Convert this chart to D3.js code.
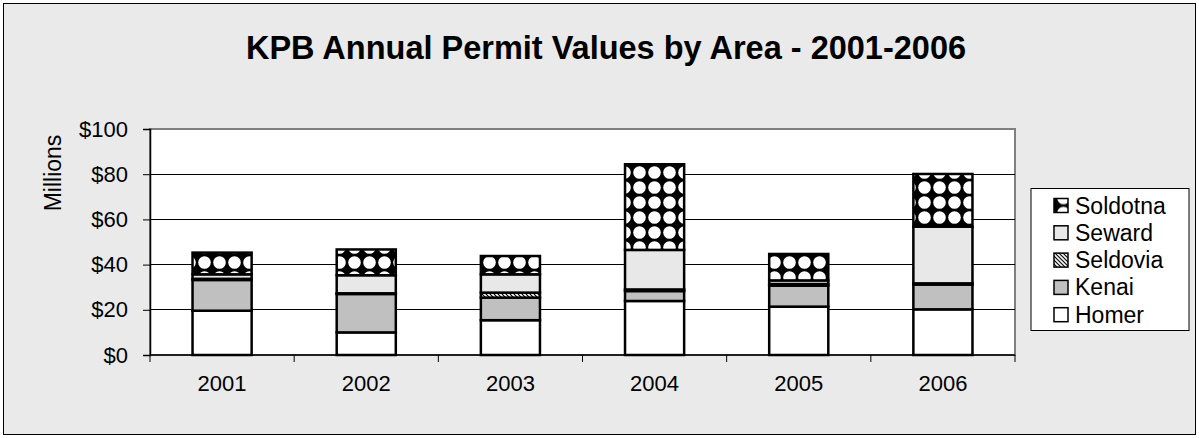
<!DOCTYPE html>
<html><head><meta charset="utf-8">
<script src="https://cdn.jsdelivr.net/npm/d3@7"></script>
<style>
html,body{margin:0;padding:0;background:#fff;}
svg{display:block;font-family:"Liberation Sans",Arial,sans-serif;}
</style></head>
<body>
<svg id="chart" width="1199" height="438"></svg>
<script>
const years = ['2001','2002','2003','2004','2005','2006'];
const homer    = [19.6, 10.0, 15.4, 23.9, 21.4, 20.2];
const kenai    = [13.6, 17.0, 10.0,  4.4,  9.3, 11.0];
const seldovia = [ 0.5,  0.3,  2.2,  0.7,  0.7,  0.5];
const seward   = [ 2.0,  8.0,  8.1, 17.5,  1.6, 25.1];
const soldotna = [ 9.6, 11.4,  8.1, 37.9, 11.7, 23.3];
const seriesNames = ['Homer','Kenai','Seldovia','Seward','Soldotna'];
const yTicks = [0,20,40,60,80,100];
const title = 'KPB Annual Permit Values by Area - 2001-2006';
const yLabel = 'Millions';

const seriesData = [homer, kenai, seldovia, seward, soldotna];
const rows = years.map((y,i)=>{const r={year:y}; seriesNames.forEach((s,k)=>r[s]=seriesData[k][i]); return r;});
const stacked = d3.stack().keys(seriesNames)(rows);

const svg = d3.select('#chart');
const defs = svg.append('defs');
// Soldotna pattern
const p1 = defs.append('pattern').attr('id','pSold').attr('patternUnits','userSpaceOnUse')
  .attr('width',15).attr('height',15).attr('x',2).attr('y',0);
p1.append('rect').attr('width',15).attr('height',15).attr('fill','#000');
p1.append('circle').attr('cx',7.5).attr('cy',7.5).attr('r',6.3).attr('fill','#fff');
// Seldovia hatch
const p2 = defs.append('pattern').attr('id','pSeld').attr('patternUnits','userSpaceOnUse')
  .attr('width',4).attr('height',4);
p2.append('rect').attr('width',4).attr('height',4).attr('fill','#fff');
p2.append('path').attr('d','M-1,-1L5,5M-1,3L1,5M3,-1L5,1').attr('stroke','#000').attr('stroke-width',1.2);

const fills = {Homer:'#ffffff', Kenai:'#c0c0c0', Seldovia:'url(#pSeld)', Seward:'#e8e8e8', Soldotna:'url(#pSold)'};

// background
svg.append('rect').attr('x',3.5).attr('y',3.5).attr('width',1192).attr('height',431)
  .attr('fill','#eaeaea').attr('stroke','#000').attr('stroke-width',1);

const L=150, R=1015, T=129, B=355;
const x = d3.scaleBand().domain(years).range([L,R]).padding(0);
const y = d3.scaleLinear().domain([0,100]).range([B,T]);

svg.append('rect').attr('x',L).attr('y',T).attr('width',R-L).attr('height',B-T)
  .attr('fill','#fff').attr('stroke','#808080').attr('stroke-width',2);

// gridlines
svg.append('g').selectAll('line').data(yTicks.filter(d=>d>0 && d<100)).join('line')
  .attr('x1',L).attr('x2',R).attr('y1',d=>y(d)).attr('y2',d=>y(d))
  .attr('stroke','#000').attr('stroke-width',1).attr('shape-rendering','crispEdges');

// y axis
const yAxis = svg.append('g').attr('transform',`translate(${L},0)`)
  .call(d3.axisLeft(y).tickValues(yTicks).tickSize(7).tickPadding(15).tickFormat(d=>'$'+d));
yAxis.select('.domain').attr('stroke','#000').attr('stroke-width',1.5);
yAxis.selectAll('.tick line').attr('stroke','#000');
yAxis.selectAll('.tick text').attr('font-size',22).attr('fill','#000')
  .attr('font-family','"Liberation Sans",Arial,sans-serif');

// x axis
const xTickPos = years.map(d=>x(d)).concat([R]);
const xAxis = svg.append('g').attr('transform',`translate(0,${B})`);
xAxis.append('line').attr('x1',L).attr('x2',R).attr('y1',0).attr('y2',0).attr('stroke','#000').attr('stroke-width',1.5);
xAxis.selectAll('line.tk').data(xTickPos).join('line').attr('class','tk')
  .attr('x1',d=>d).attr('x2',d=>d).attr('y1',0).attr('y2',7).attr('stroke','#000');
xAxis.selectAll('text').data(years).join('text')
  .attr('x',d=>x(d)+x.bandwidth()/2).attr('y',36).attr('text-anchor','middle')
  .attr('font-size',22).attr('fill','#000').text(d=>d);

// bars
const bw = x.bandwidth()*0.41;
svg.append('g').selectAll('g').data(stacked).join('g')
  .attr('fill',d=>fills[d.key])
  .selectAll('rect').data(d=>d).join('rect')
  .attr('x',d=>x(d.data.year)+x.bandwidth()/2-bw/2)
  .attr('width',bw)
  .attr('y',d=>y(d[1]))
  .attr('height',d=>y(d[0])-y(d[1]))
  .attr('stroke','#000').attr('stroke-width',2.5);

// title
svg.append('text').attr('x',606).attr('y',59).attr('text-anchor','middle')
  .attr('font-size',32.5).attr('font-weight','bold').attr('fill','#000').text(title);

// y label
svg.append('text').attr('transform','translate(61,173) rotate(-90)').attr('text-anchor','middle')
  .attr('font-size',23).attr('fill','#000').text(yLabel);

// legend
const lg = svg.append('g');
lg.append('rect').attr('x',1031).attr('y',188.5).attr('width',158).attr('height',142)
  .attr('fill','#fff').attr('stroke','#000').attr('stroke-width',1);
const legOrder = seriesNames.slice().reverse();
const li = lg.selectAll('g.li').data(legOrder).join('g').attr('class','li')
  .attr('transform',(d,i)=>`translate(1054,${205.5+i*27.3})`);
li.append('rect').attr('x',0).attr('y',-7).attr('width',14).attr('height',14)
  .attr('fill',d=>fills[d]).attr('stroke','#000').attr('stroke-width',1.5);
li.append('text').attr('x',21).attr('y',0).attr('dy','0.35em').attr('font-size',23)
  .attr('fill','#000').text(d=>d);
</script>
</body></html>
